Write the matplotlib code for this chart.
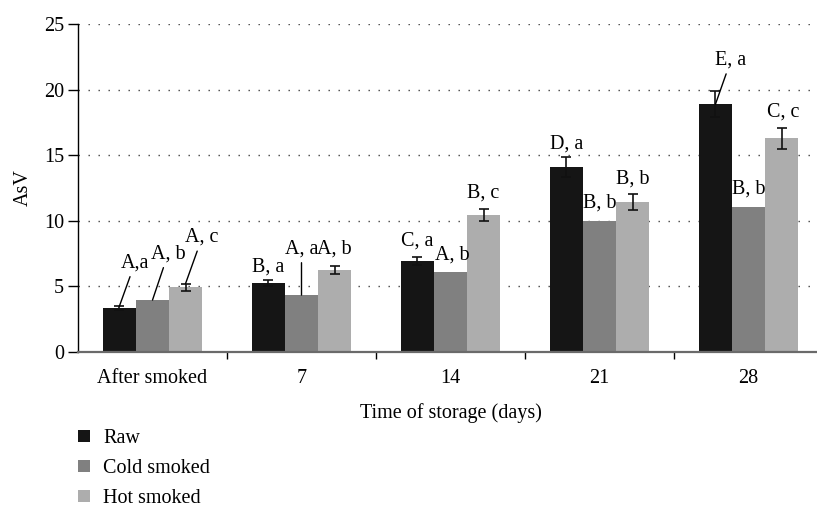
import matplotlib
matplotlib.use("Agg")
import matplotlib.pyplot as plt
from matplotlib.patches import Patch
import numpy as np

categories = ["After smoked", "7", "14", "21", "28"]
series_names = ["Raw", "Cold smoked", "Hot smoked"]
raw = [3.35, 5.26, 6.94, 14.1, 18.88]
cold = [3.96, 4.34, 6.1, 9.98, 11.05]
hot = [4.95, 6.25, 10.44, 11.43, 16.31]
raw_err = [0.15, 0.25, 0.3, 0.74, 1.0]
cold_err = [0.0, 0.0, 0.0, 0.0, 0.0]
hot_err = [0.27, 0.3, 0.48, 0.6, 0.8]
raw_lbl = ["A,a", "B, a", "C, a", "D, a", "E, a"]
cold_lbl = ["A, b", "A, a", "A, b", "B, b", "B, b"]
hot_lbl = ["A, c", "A, b", "B, c", "B, b", "C, c"]
yticks = [0, 5, 10, 15, 20, 25]

colors = ["#151515", "#808080", "#adadad"]

# label offsets (pixels) and whether a leader line is drawn
raw_off = [(15.5, 43, True), (0, 13, False), (0, 16, False), (0, 13, False), (15.5, 44, True)]
cold_off = [(15.5, 46, True), (0, 46, True), (1.5, 17, False), (0, 18, False), (0, 18, False)]
hot_off = [(16.5, 46, True), (0, 17, False), (0, 15.5, False), (0, 15, False), (1.5, 15, False)]

plt.rcParams['font.family'] = ['Liberation Serif', 'DejaVu Serif']
FS = 14.5

fig = plt.figure(figsize=(8.17, 5.08), dpi=100)
ax = fig.add_axes([78/817, (508-352)/508, 745/817, 328/508])

x = np.arange(len(categories))
w = 0.222
series = [raw, cold, hot]
errs = [raw_err, cold_err, hot_err]
lbls = [raw_lbl, cold_lbl, hot_lbl]
offs = [raw_off, cold_off, hot_off]

ax.set_axisbelow(True)
for j in range(3):
    xs = x + (j - 1) * w
    ax.bar(xs, series[j], width=w, color=colors[j], zorder=2, label=series_names[j])
    e = np.array(errs[j])
    mask = e > 0
    if mask.any():
        ax.errorbar(xs[mask], np.array(series[j])[mask], yerr=e[mask], fmt='none',
                    ecolor='#111111', elinewidth=1.2, capsize=3.6, capthick=1.2, zorder=3)
    for i in range(len(categories)):
        dx, dy, line = offs[j][i]
        ytop = series[j][i] + errs[j][i]
        if j == 0 and i == 4:
            ytop = series[j][i]
        if line:
            ax.annotate(lbls[j][i], xy=(xs[i], ytop), xytext=(dx, dy),
                        textcoords='offset pixels', ha='center', va='center',
                        fontsize=FS, zorder=4,
                        arrowprops=dict(arrowstyle='-', color='black', lw=1.0,
                                        shrinkA=1, shrinkB=0))
        else:
            ax.annotate(lbls[j][i], xy=(xs[i], ytop), xytext=(dx, dy),
                        textcoords='offset pixels', ha='center', va='center',
                        fontsize=FS, zorder=4)

ax.set_xlim(-0.5, len(categories) - 0.5)
ax.set_ylim(0, 25)
ax.set_yticks(yticks)
ax.set_yticklabels([str(v) for v in yticks], fontsize=FS)
ax.yaxis.grid(True, linestyle=(0, (1.0, 6.2)), color='#444444', linewidth=1.0)
ax.xaxis.grid(False)

ax.set_xticks(np.arange(len(categories) - 1) + 0.5)
ax.set_xticklabels([])
ax.set_xticks(x, minor=True)
ax.set_xticklabels(categories, minor=True, fontsize=FS)
ax.tick_params(axis='x', which='minor', length=0, pad=12.5)
ax.tick_params(axis='x', which='major', length=5, width=1, direction='out', color='black')
ax.tick_params(axis='y', length=7, width=1, direction='out', pad=3)

for s in ['top', 'right']:
    ax.spines[s].set_visible(False)
ax.spines['left'].set_color('black')
ax.spines['left'].set_linewidth(1.0)
ax.spines['bottom'].set_color('#6a6a6a')
ax.spines['bottom'].set_linewidth(1.6)

ax.set_xlabel("Time of storage (days)", fontsize=FS)
ax.xaxis.set_label_coords(0.5, -0.1564)
ax.set_ylabel("AsV", fontsize=FS, labelpad=8)

handles = [Patch(facecolor=c, edgecolor='none') for c in colors]
fig.legend(handles, series_names, loc='upper left', bbox_to_anchor=(78/817, (508-429)/508),
           frameon=False, fontsize=FS, handlelength=0.6, handleheight=0.6,
           handletextpad=0.65, labelspacing=0.55, borderpad=0, borderaxespad=0)

fig.savefig("out.png", dpi=100)
